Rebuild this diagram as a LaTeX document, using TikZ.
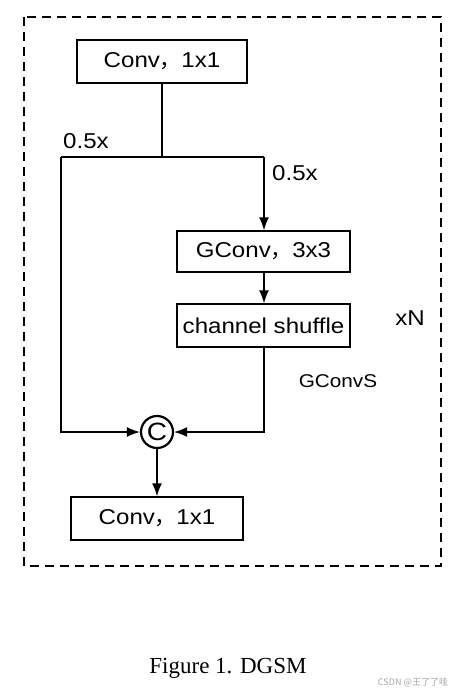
\documentclass[tikz,border=0pt]{standalone}
\usepackage{fontspec}
\setmainfont{Liberation Serif}
\setsansfont{Liberation Sans}[FakeStretch=1.12]
\newfontfamily\cjk{Noto Sans CJK SC}
\usetikzlibrary{arrows.meta}
\newcommand{\fwcomma}{{\cjk ，}}

\begin{document}
\begin{tikzpicture}[x=1pt,y=-1pt,font=\sffamily\fontsize{21.5}{24}\selectfont,
  box/.style={draw, line width=1.4pt, minimum height=43pt, inner sep=0pt},
  line/.style={line width=1.4pt},
  arr/.style={-{Latex[length=13pt,width=10pt]}, line width=1.4pt}]
\useasboundingbox (0,0) rectangle (460,694);
\draw[line width=2.6pt, dash pattern=on 9pt off 6pt] (24,17) rectangle (441,566);
\node[box, minimum width=170pt] (conv1) at (162,61.5) {Conv\fwcomma 1x1};
\node[box, minimum width=173pt, minimum height=41pt] (gconv) at (263.5,251.5) {GConv\fwcomma 3x3};
\node[box, minimum width=173pt] (shuffle) at (263.5,325.5) {channel shuffle};
\node[draw, circle, line width=2.2pt, minimum size=32pt, inner sep=0pt,
  font=\sffamily\fontsize{25}{26}\selectfont] (cat) at (157,432) {C};
\node[box, minimum width=172pt] (conv2) at (157,518.5) {Conv\fwcomma 1x1};
\coordinate (split) at (162,157);
\coordinate (lft) at (61,157);
\coordinate (rgt) at (264,157);
\draw[line] (conv1.south) -- (split);
\draw[line] (lft) -- (rgt);
\draw[arr] (rgt) -- (gconv.north -| rgt);
\draw[arr] (gconv.south -| rgt) -- (shuffle.north -| rgt);
\draw[arr] (lft) |- (cat.west);
\draw[arr] (shuffle.south -| rgt) |- (cat.east);
\draw[arr] (cat.south) -- (conv2.north);
\node (halfa) at (86,141) {0.5x};
\node (halfb) at (295,173) {0.5x};
\node[font=\sffamily\fontsize{18.5}{20}\selectfont] (gcs) at (338,381) {GConvS};
\node (rep) at (410,318) {xN};
\node[font=\rmfamily\fontsize{23}{26}\selectfont] (cap) at (228,668) {Figure 1. DGSM};
\node[font=\cjk\fontsize{9}{10}\selectfont, text=black!35] (wm) at (413,683) {CSDN @王了了哇};
\end{tikzpicture}
\end{document}
